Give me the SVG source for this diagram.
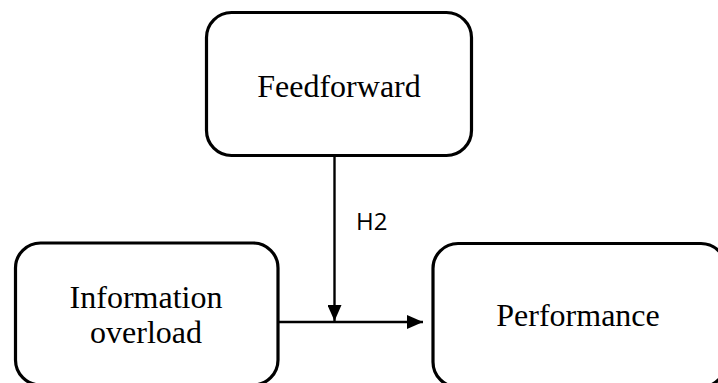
<svg xmlns="http://www.w3.org/2000/svg" width="718" height="383" viewBox="0 0 718 383">
<style>
.box{fill:#fff;stroke:#000;stroke-width:3.2}
.lbl{font-family:"Liberation Serif","Times New Roman",serif;font-size:32px;fill:#000;text-anchor:middle}
.edge{stroke:#000;stroke-width:2.4;fill:none}
.hl{font-family:"Open Sans","Liberation Sans",sans-serif;font-size:24px;fill:#000}
</style>
<defs>
<marker id="arr" viewBox="0 0 16 14" refX="16" refY="7" markerWidth="16" markerHeight="14" markerUnits="userSpaceOnUse" orient="auto">
<path d="M0,0 L16,7 L0,14 Z" fill="#000"/>
</marker>
</defs>
<rect width="718" height="383" fill="#fff"/>
<g id="feedforward">
<rect class="box" x="206.5" y="12.5" width="265" height="143" rx="25" ry="25"/>
<text class="lbl" x="339" y="97">Feedforward</text>
</g>
<g id="information-overload">
<rect class="box" x="15.5" y="243" width="262.5" height="142" rx="25" ry="25"/>
<text class="lbl" x="146" y="308">Information</text>
<text class="lbl" x="146" y="343">overload</text>
</g>
<g id="performance">
<rect class="box" x="433" y="243.5" width="293" height="143.5" rx="25" ry="25"/>
<text class="lbl" x="578" y="326">Performance</text>
</g>
<g id="connectors">
<line class="edge" x1="279" y1="322" x2="423" y2="322" marker-end="url(#arr)"/>
<line class="edge" x1="334.5" y1="157" x2="334.5" y2="321" marker-end="url(#arr)"/>
<text class="hl" x="356" y="230">H2</text>
</g>
</svg>
